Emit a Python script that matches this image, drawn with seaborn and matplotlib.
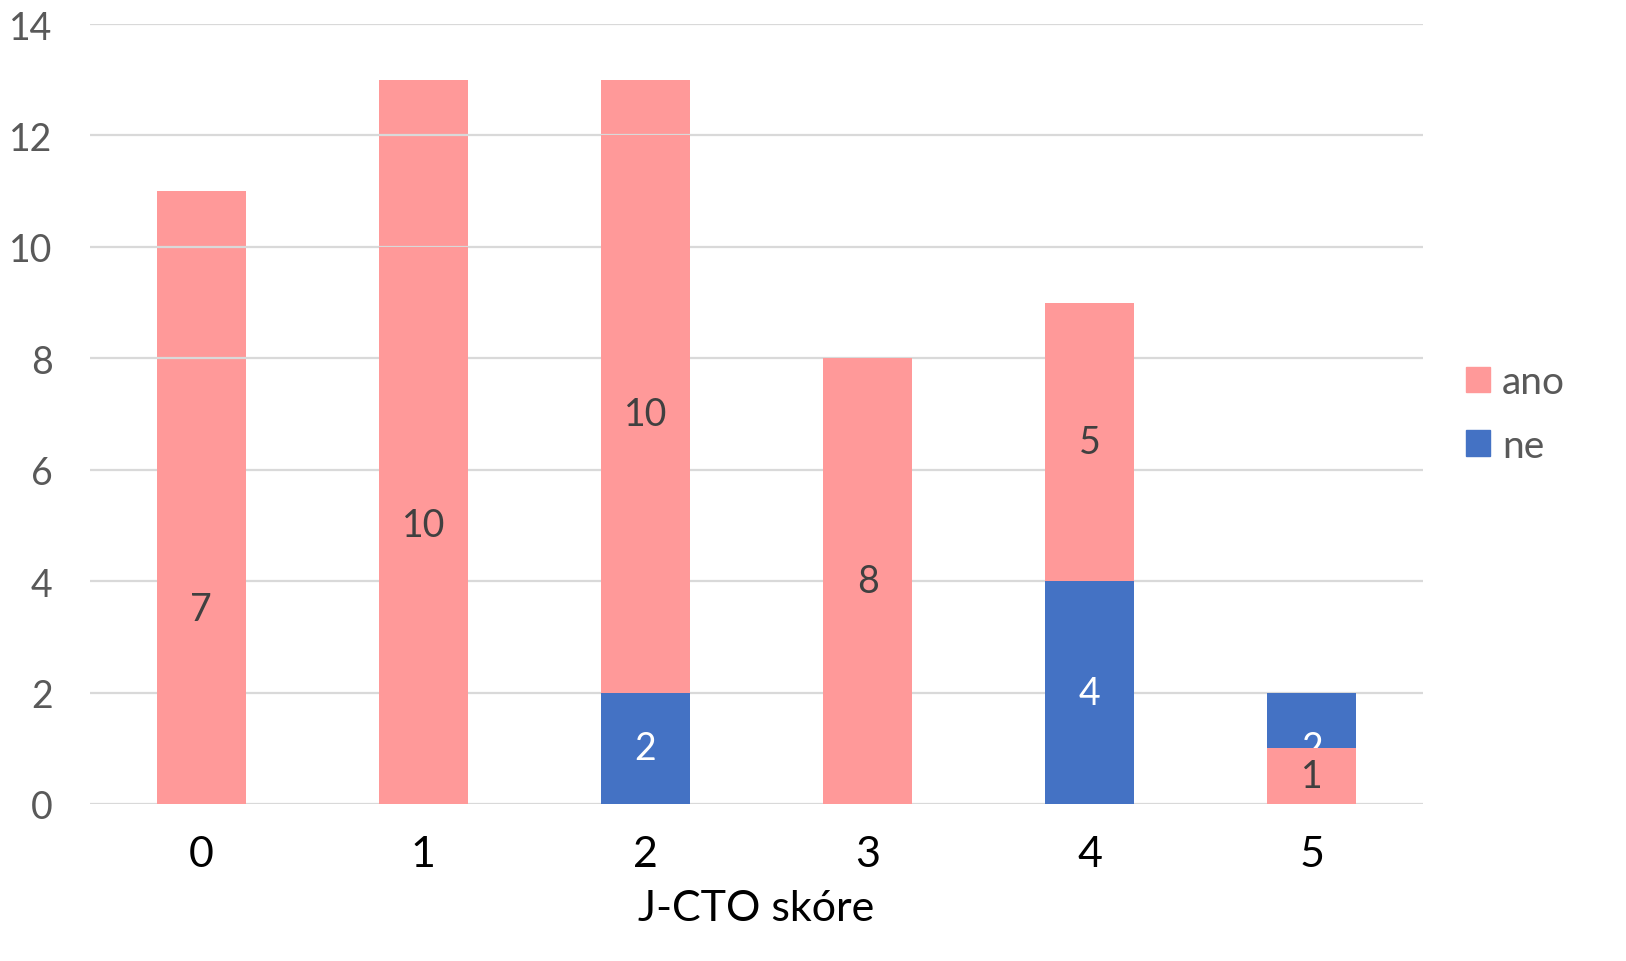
import matplotlib
matplotlib.use("Agg")
import matplotlib.pyplot as plt
import matplotlib.patches as mpatches
import seaborn as sns

# ---- data ----
categories = ["0", "1", "2", "3", "4", "5"]
ne = [0, 0, 2, 0, 4, 2]            # blue series (label values)
ano = [7, 10, 10, 8, 5, 1]         # pink series (label values)
ano_start = [0, 0, 2, 0, 4, 0]     # where the pink segment begins
total = [11, 13, 13, 8, 9, 2]      # full pink column height shown
x_label = "J-CTO skóre"
series_names = ["ano", "ne"]
yticks = [0, 2, 4, 6, 8, 10, 12, 14]

PINK = "#FF9999"
BLUE = "#4472C4"
GRID = "#D9D9D9"
DARK = "#404040"
GREY = "#595959"

sns.set_theme(style="white")
plt.rcParams["font.family"] = ["Lato", "DejaVu Sans"]

fig = plt.figure(figsize=(16.26, 9.62), dpi=100)
ax = fig.add_axes([90 / 1626, 1 - 805 / 962, (1423 - 90) / 1626, (805 - 25) / 962])

# background full columns (under gridlines)
sns.barplot(x=categories, y=total, color=PINK, width=0.4, linewidth=0,
            saturation=1, errorbar=None, ax=ax, zorder=1)
# blue series
sns.barplot(x=categories, y=ne, color=BLUE, width=0.4, linewidth=0,
            saturation=1, errorbar=None, ax=ax, zorder=3)
# blue labels (behind pink)
for i, v in enumerate(ne):
    if v > 0:
        ax.text(i, v / 2, str(v), ha="center", va="center", color="white",
                fontsize=27, zorder=3.5)
# pink series
sns.barplot(x=categories, y=ano, bottom=ano_start, color=PINK, width=0.4,
            linewidth=0, saturation=1, errorbar=None, ax=ax, zorder=4)
for i, v in enumerate(ano):
    ax.text(i, ano_start[i] + v / 2, str(v), ha="center", va="center",
            color=DARK, fontsize=27, zorder=5)

ax.set_ylim(0, 14)
ax.set_xlim(-0.5, len(categories) - 0.5)
ax.set_yticks(yticks)
ax.set_yticklabels([str(t) for t in yticks])
ax.set_axisbelow("line")
ax.yaxis.grid(True, color=GRID, linewidth=1.6)
ax.xaxis.grid(False)
for s in ax.spines.values():
    s.set_visible(False)
ax.tick_params(axis="y", length=0, pad=27, labelsize=27, labelcolor=GREY)
ax.tick_params(axis="x", length=0, pad=22, labelsize=31, labelcolor="black")
ax.set_xlabel(x_label, fontsize=31, color="black", labelpad=12)
ax.set_ylabel("")

handles = [mpatches.Patch(color=PINK, label=series_names[0]),
           mpatches.Patch(color=BLUE, label=series_names[1])]
fig.legend(handles=handles, loc="center left",
           bbox_to_anchor=(1466 / 1626, 1 - 415 / 962), frameon=False,
           fontsize=28, handlelength=0.62, handleheight=0.62,
           handletextpad=0.3, labelspacing=0.7, labelcolor=GREY,
           borderpad=0, borderaxespad=0)

fig.savefig("out.png", dpi=100)
